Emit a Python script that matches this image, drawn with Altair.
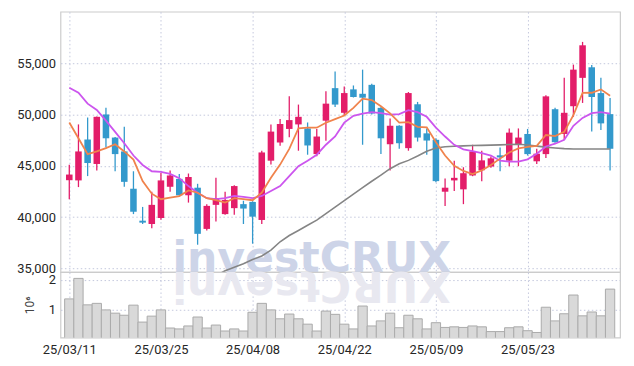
import altair as alt
import pandas as pd

dates = ["25/03/11", "25/03/12", "25/03/13", "25/03/14", "25/03/17", "25/03/18", "25/03/19", "25/03/20", "25/03/21", "25/03/24",
         "25/03/25", "25/03/26", "25/03/27", "25/03/28", "25/03/31", "25/04/01", "25/04/02", "25/04/03", "25/04/04", "25/04/07",
         "25/04/08", "25/04/09", "25/04/10", "25/04/11", "25/04/14", "25/04/15", "25/04/16", "25/04/17", "25/04/18", "25/04/21",
         "25/04/22", "25/04/23", "25/04/24", "25/04/25", "25/04/28", "25/04/29", "25/04/30", "25/05/02", "25/05/07", "25/05/08",
         "25/05/09", "25/05/12", "25/05/13", "25/05/14", "25/05/15", "25/05/16", "25/05/19", "25/05/20", "25/05/21", "25/05/22",
         "25/05/23", "25/05/26", "25/05/27", "25/05/28", "25/05/29", "25/05/30", "25/06/02", "25/06/04", "25/06/05", "25/06/09"]

opens = [43600, 43580, 47560, 45180, 50000, 47750, 46400, 42770, 39660, 39340,
         39920, 42960, 43730, 42130, 42870, 38860, 41200, 40300, 40880, 41270,
         41490, 39730, 45500, 47270, 48590, 49030, 48640, 46140, 49390, 52560,
         50160, 52440, 52010, 52880, 50640, 47100, 48900, 46720, 50990, 48160,
         47530, 42480, 43580, 42710, 44060, 44570, 44930, 46020, 45500, 47100,
         48100, 45440, 46140, 50510, 48100, 50800, 53560, 54590, 52080, 50030]
closes = [44150, 46400, 45270, 49770, 47680, 46140, 43440, 40530, 39470, 41200,
          43580, 44060, 42130, 43900, 38380, 41100, 41850, 41680, 43030, 40840,
          40050, 46300, 48330, 49070, 49450, 49770, 46980, 47850, 51050, 50960,
          52080, 51700, 51630, 50090, 47680, 48900, 47200, 52080, 47750, 47460,
          43510, 42870, 43830, 44280, 46400, 45530, 45730, 45820, 48230, 47750,
          46140, 46180, 51760, 47300, 50160, 54360, 56730, 51700, 49130, 46660]
highs = [45100, 49030, 49700, 49800, 50640, 47800, 48810, 44470, 41000, 42480,
         44310, 44540, 44210, 44250, 43250, 41270, 43830, 42480, 43100, 41600,
         41550, 46470, 49030, 49550, 51760, 50960, 49220, 48590, 52250, 54170,
         52730, 52820, 54360, 52980, 50700, 49610, 48950, 52180, 51220, 48640,
         47680, 43770, 45500, 44860, 47050, 46470, 45900, 46790, 48640, 48640,
         48590, 46660, 51860, 50640, 53560, 54850, 57060, 54800, 53560, 51600]
lows = [41750, 42930, 44000, 44540, 46790, 44470, 42960, 40300, 39340, 38920,
        39750, 42480, 42100, 41420, 37320, 38700, 39590, 40240, 40240, 39340,
        37420, 39340, 45120, 46950, 47780, 46470, 46080, 45920, 47430, 50730,
        49930, 51650, 47050, 50000, 46140, 44540, 46660, 46470, 47360, 46080,
        43400, 41100, 42550, 41270, 43990, 43510, 44800, 44470, 44960, 44960,
        46000, 45180, 45760, 47250, 47530, 49770, 51120, 48330, 48490, 44540]

ma5 = [49220, 47680, 46140, 46400, 46720, 47100, 46400, 45600, 43510, 42290,
       41750, 41900, 42050, 42600, 42380, 41850, 41650, 41420, 41850, 41750,
       41650, 42380, 43830, 45120, 46650, 48640, 48710, 48710, 49190, 49550,
       49900, 50640, 51530, 51400, 50800, 50100, 49200, 49250, 48800, 48750,
       47300, 46000, 45000, 44500, 44200, 44550, 45080, 45700, 46300, 46700,
       46850, 46950, 48000, 47900, 48300, 49930, 52100, 52110, 52440, 51830]
ma20 = [52590, 52110, 51050, 50440, 49400, 48300, 47200, 46000, 45080, 44470,
        44400, 44210, 43800, 43030, 42380, 41850, 41750, 41850, 42070, 41970,
        41850, 42070, 42550, 43030, 44000, 44960, 45500, 46080, 47050, 47850,
        49200, 49870, 50090, 50220, 50120, 49990, 50040, 50410, 50220, 49770,
        48720, 47850, 47040, 46610, 46430, 46240, 46000, 45500, 45400, 45400,
        45630, 46170, 46880, 47150, 47530, 48890, 49660, 50120, 50220, 50090]
ma60 = [None] * 16 + [
        34300, 34790, 35130, 35470,
        35880, 36220, 36800, 37610, 38220, 38710, 39210, 39720, 40350, 40980,
        41610, 42240, 42870, 43500, 44100, 44720, 45200, 45530, 45950, 46420,
        46730, 46860, 46900, 46940, 46970, 46990, 47010, 47040, 47070, 47100,
        47030, 46920, 46820, 46740, 46670, 46630, 46630, 46640, 46640, 46640]

volumes = [1360000, 2050000, 1160000, 1210000, 990000, 880000, 810000, 1150000, 580000, 780000,
           990000, 380000, 350000, 450000, 750000, 380000, 480000, 280000, 350000, 280000,
           910000, 1210000, 990000, 690000, 850000, 690000, 510000, 280000, 950000, 840000,
           510000, 350000, 1120000, 450000, 620000, 880000, 390000, 810000, 690000, 350000,
           560000, 400000, 420000, 400000, 450000, 420000, 260000, 260000, 390000, 420000,
           290000, 230000, 1080000, 620000, 860000, 1490000, 790000, 920000, 790000, 1690000]

price_ticks = [35000, 40000, 45000, 50000, 55000]
volume_ticks = [1000000, 2000000]
label_idx = [0, 10, 20, 30, 40, 50]

df = pd.DataFrame({
    "i": list(range(len(dates))), "date": dates,
    "open": opens, "close": closes, "high": highs, "low": lows,
    "ma5": ma5, "ma20": ma20, "ma60": ma60, "volume": volumes,
})

UP = "#e31d69"
DOWN = "#3399cc"
FONT = "Roboto, sans-serif"
GRID = "#c3c7dd"

label_expr = " : ".join(f"datum.value == {k} ? '{dates[k]}'" for k in label_idx) + " : ''"

xscale = alt.Scale(domain=[-0.42, 59.55], nice=False, zero=False)
x_top = alt.X("i:Q", scale=xscale,
              axis=alt.Axis(values=label_idx, labels=False, ticks=False, domain=False,
                            grid=True, title=None, labelPadding=0, minExtent=0, maxExtent=0))
x_bot = alt.X("i:Q", scale=xscale,
              axis=alt.Axis(values=label_idx, labelExpr=label_expr, ticks=False, domain=False,
                            grid=True, title=None, labelPadding=6, labelFontSize=13,
                            labelFlush=False))

pscale = alt.Scale(domain=[34650, 60000], nice=False, zero=False)
paxis = alt.Axis(values=price_ticks, format=",.0f", ticks=False, domain=False,
                 grid=True, title=None, labelPadding=5, labelFontSize=13, labelFlush=False)

color_cond = alt.condition("datum.close >= datum.open", alt.value(UP), alt.value(DOWN))

base = alt.Chart(df)

wm = alt.Chart(pd.DataFrame({"t": ["investCRUX"]})).mark_text(
    font="DejaVu Sans", fontWeight="bold", fontSize=43, color="#cdd4e8",
    align="left", baseline="alphabetic"
).encode(text="t:N", x=alt.value(113), y=alt.value(263))

wm_ref = alt.Chart(pd.DataFrame({"t": ["XURCtsevni"]})).mark_text(
    font="DejaVu Sans", fontWeight="bold", fontSize=43, color="#e8e8f0",
    align="right", baseline="alphabetic", angle=180
).encode(text="t:N", x=alt.value(113), y=alt.value(0))

wicks = base.mark_rule(strokeWidth=1.3).encode(
    x=x_top, y=alt.Y("low:Q", scale=pscale, axis=paxis), y2="high:Q", color=color_cond)
bodies = base.mark_bar(size=6.6).encode(
    x=x_top, y=alt.Y("open:Q", scale=pscale, axis=paxis), y2="close:Q", color=color_cond)
line60 = base.transform_filter("isValid(datum.ma60)").mark_line(
    color="#858585", strokeWidth=1.6, clip=True).encode(
    x=x_top, y=alt.Y("ma60:Q", scale=pscale, axis=paxis))
line20 = base.mark_line(color="#cc55ee", strokeWidth=1.8).encode(
    x=x_top, y=alt.Y("ma20:Q", scale=pscale, axis=paxis))
line5 = base.mark_line(color="#f0834c", strokeWidth=1.8).encode(
    x=x_top, y=alt.Y("ma5:Q", scale=pscale, axis=paxis))

price = alt.layer(wm, wicks, bodies, line60, line20, line5).properties(width=565, height=263)

vbars = base.mark_bar(size=9.4, fill="#d9d9d9", stroke="#aaaaaa", strokeWidth=1, clip=True).encode(
    x=x_bot,
    y=alt.Y("volume:Q", scale=alt.Scale(domain=[60000, 2260000], nice=False, zero=False),
            axis=alt.Axis(values=volume_ticks, labelExpr="datum.value / 1000000", ticks=False,
                          domain=False, grid=True, title="10⁶", titleAngle=270,
                          titleFontSize=12, titleFontWeight="normal", titlePadding=12,
                          labelPadding=5, labelFontSize=13, labelFlush=False))
)
vol = alt.layer(wm_ref, vbars).properties(width=565, height=66)

chart = alt.vconcat(price, vol, spacing=0, bounds="flush").properties(
    padding={"left": 8, "top": 1, "right": 5, "bottom": 5}
).configure_view(stroke="#cccccc", strokeWidth=1.2).configure_axis(
    labelFont=FONT, titleFont=FONT, labelColor="#262626", titleColor="#444444",
    gridColor=GRID, gridDash=[1.5, 2.5], gridWidth=1
)

chart.save("out.html", embed_options={"renderer": "svg", "actions": False})
